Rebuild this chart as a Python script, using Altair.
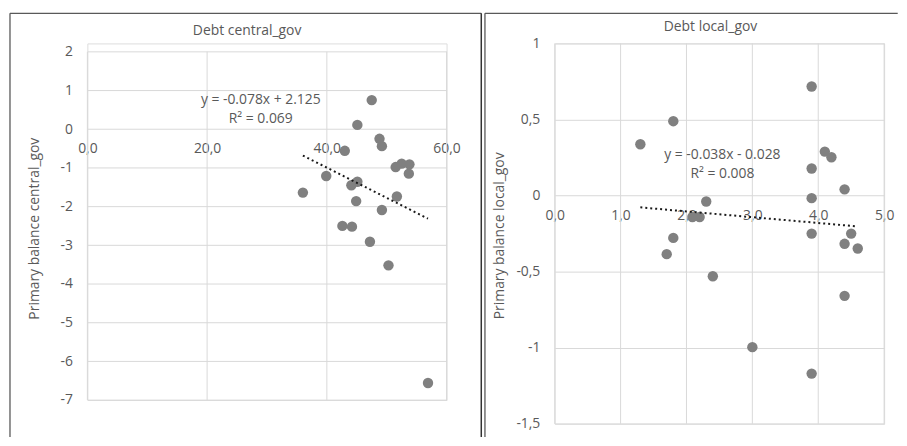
import altair as alt
import pandas as pd

# ---------------- data ----------------
central_debt = [47.5, 45.1, 48.8, 49.2, 43.0, 51.5, 52.5, 53.8, 53.7, 39.9, 45.1,
                44.1, 36.0, 51.7, 44.9, 49.2, 42.6, 44.2, 47.2, 50.3, 56.9]
central_pb = [0.75, 0.11, -0.25, -0.44, -0.56, -0.98, -0.89, -0.91, -1.15, -1.21, -1.36,
              -1.45, -1.64, -1.74, -1.86, -2.09, -2.50, -2.52, -2.91, -3.52, -6.56]

local_debt = [3.90, 1.80, 1.30, 4.10, 4.20, 3.90, 4.40, 3.90, 2.30, 2.09, 2.20,
              3.90, 4.50, 1.80, 4.40, 4.60, 1.70, 2.40, 4.40, 3.00, 3.90]
local_pb = [0.717, 0.489, 0.337, 0.289, 0.252, 0.178, 0.041, -0.017, -0.039, -0.141, -0.141,
            -0.25, -0.25, -0.278, -0.317, -0.348, -0.385, -0.530, -0.659, -0.996, -1.17]

central_slope, central_intercept = -0.078, 2.125
local_slope, local_intercept = -0.038, -0.028
central_eq = ["y = -0.078x + 2.125", "R² = 0.069"]
local_eq = ["y = -0.038x - 0.028", "R² = 0.008"]

central_xticks = [0, 20, 40, 60]
central_yticks = [2, 1, 0, -1, -2, -3, -4, -5, -6, -7]
local_xticks = [0, 1, 2, 3, 4, 5]
local_yticks = [1, 0.5, 0, -0.5, -1, -1.5]

FONT = "Open Sans"
TXT = "#595959"
GRID = "#d9d9d9"
FRAME = "#595959"


def panel(title, ytitle, xs, ys, slope, intercept, eq, eq_pos, xdom, ydom,
          xticks, yticks, w, plot_h, top_px, group_h, frame, title_pos,
          ytitle_pad, ytitle_y, divider):
    pts = pd.DataFrame({"x": xs, "y": ys})
    x0, x1 = min(xs), max(xs)
    fit = pd.DataFrame({"x": [x0, x1],
                        "y": [slope * x0 + intercept, slope * x1 + intercept]})
    ann = pd.DataFrame({"x": [eq_pos[0], eq_pos[0]],
                        "y": [eq_pos[1], eq_pos[2]], "t": eq})
    vgrid = pd.DataFrame({"x": xticks, "y": [ydom[0]] * len(xticks),
                          "y2": [ydom[1]] * len(xticks)})

    zero_px = top_px + plot_h * (ydom[1] - 0) / (ydom[1] - ydom[0])
    xoff = zero_px - group_h
    xsc = alt.Scale(domain=xdom, nice=False, zero=False)
    ysc = alt.Scale(domain=ydom, nice=False, zero=False, range=[top_px + plot_h, top_px])
    xaxis = alt.Axis(values=xticks, title=None, domain=False, ticks=False, tickSize=0,
                     offset=xoff, labelPadding=13, labelFont=FONT, labelFontSize=14,
                     labelColor=TXT, grid=False, labelOverlap=False, labelFlush=False,
                     labelExpr="replace(format(datum.value, '.1f'), '.', ',')")
    yaxis = alt.Axis(values=yticks, title=ytitle, domain=False, ticks=False, tickSize=0,
                     labelPadding=15, labelFont=FONT, labelFontSize=14, labelColor=TXT,
                     titleFont=FONT, titleFontSize=14, titleColor=TXT, titleFontWeight="normal",
                     titlePadding=ytitle_pad, titleY=ytitle_y, gridColor=GRID,
                     labelOverlap=False, labelFlush=False,
                     labelExpr="replace('' + datum.value, '.', ',')")

    X = alt.X("x:Q", scale=xsc, axis=xaxis)
    Y = alt.Y("y:Q", scale=ysc, axis=yaxis)
    grid = alt.Chart(vgrid).mark_rule(color=GRID, strokeWidth=1).encode(x=X, y=Y, y2="y2:Q")
    base_pts = alt.Chart(pts).mark_circle(size=110, color="#808080", opacity=1).encode(x=X, y=Y)
    line = alt.Chart(fit).mark_line(color="#1a1a1a", strokeDash=[2, 3], strokeWidth=2).encode(
        x=X, y=Y)
    text = alt.Chart(ann).mark_text(font=FONT, fontSize=14, color=TXT, align="center",
                                    baseline="middle").encode(x=X, y=Y, text="t:N")

    one = alt.Data(values=[{"k": 1}])
    ttl = alt.Chart(alt.Data(values=[{"t": title}])).mark_text(
        font=FONT, fontSize=14, color=TXT, align="center", baseline="middle").encode(
        x=alt.value(title_pos[0]), y=alt.value(title_pos[1]), text="t:N")
    fl, ft, fr, fb = frame
    rules = [
        alt.Chart(one).mark_rule(color=FRAME, strokeWidth=1.3).encode(
            x=alt.value(fl), y=alt.value(ft), y2=alt.value(fb)),
        alt.Chart(one).mark_rule(color=FRAME, strokeWidth=1.3).encode(
            x=alt.value(fl), x2=alt.value(fr), y=alt.value(ft)),
    ]
    if divider:
        rules.append(alt.Chart(one).mark_rule(color="#333333", strokeWidth=1.5).encode(
            x=alt.value(fr), y=alt.value(ft), y2=alt.value(fb)))

    return alt.layer(grid, base_pts, line, text, ttl, *rules).properties(
        width=w, height=group_h)


# both panels share the same group origin (y = 43.3 on the page)
left = panel("Debt central_gov", "Primary balance central_gov", central_debt, central_pb,
             central_slope, central_intercept, central_eq, (28.96, 0.744, 0.272),
             [0, 60], [-7, 2], central_xticks, central_yticks,
             362, 351, 8.4, 359.4,
             (-78, -30.3, 397, 396.7), (161, -12.3), 19, 186.2, True)
right = panel("Debt local_gov", "Primary balance local_gov", local_debt, local_pb,
              local_slope, local_intercept, local_eq, (2.545, 0.269, 0.142),
              [0, 5], [-1.5, 1], local_xticks, local_yticks,
              332, 383.4, 0, 383.4,
              (-70.3, -30.3, 345.7, 396.7), (157, -16.3), 9, 193.4, False)

chart = alt.hconcat(left, right, spacing=0).properties(
    padding={"left": 0, "top": 2, "right": 0, "bottom": 0}
).configure_view(stroke="transparent").configure_axis(labelOverlap=False).configure(
    background="white")

chart.save("out.html", embed_options={"renderer": "svg", "actions": False})
